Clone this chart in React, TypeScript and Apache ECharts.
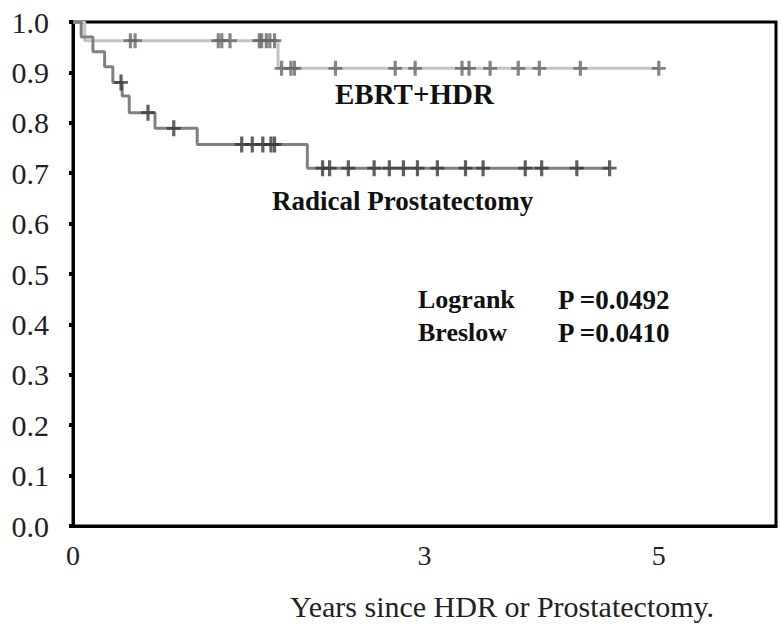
import React, { useEffect, useRef } from "react";
import * as echarts from "echarts";

// Kaplan-Meier step points (time in years, survival)
const ebrtStepTimes = [0, 0.1, 1.75, 5.0];
const ebrtStepSurv = [1.0, 0.963, 0.908, 0.908];
const rpStepTimes = [0, 0.07, 0.17, 0.27, 0.34, 0.42, 0.48, 0.7, 1.06, 2.0, 4.58];
const rpStepSurv = [1.0, 0.97, 0.941, 0.911, 0.88, 0.853, 0.82, 0.789, 0.757, 0.71, 0.71];

// censored observations (time in years)
const ebrtCensorTimes = [
  0.49, 0.53, 1.24, 1.27, 1.34, 1.59, 1.61, 1.65, 1.68, 1.72, 1.78, 1.86, 1.89,
  2.24, 2.75, 2.92, 3.32, 3.38, 3.56, 3.8, 3.98, 4.33, 5.0,
];
const rpCensorTimes = [
  0.41, 0.64, 0.86, 1.44, 1.53, 1.62, 1.69, 1.72, 2.13, 2.19, 2.35, 2.57, 2.7,
  2.82, 2.94, 3.11, 3.35, 3.5, 3.86, 4.0, 4.3, 4.58,
];

const xTickLabels = ["0", "3", "5"];
const yTicks = [0, 0.1, 0.2, 0.3, 0.4, 0.5, 0.6, 0.7, 0.8, 0.9, 1.0];

const groupLabels = ["EBRT+HDR", "Radical Prostatectomy"];
const statNames = ["Logrank", "Breslow"];
const statValues = ["P =0.0492", "P =0.0410"];
const xTitle = "Years since HDR or Prostatectomy.";

const SERIF = "Liberation Serif, Times New Roman, serif";
const CROSS =
  "path://M-1.6,-7L1.6,-7L1.6,-1.2L7,-1.2L7,1.2L1.6,1.2L1.6,7L-1.6,7L-1.6,1.2L-7,1.2L-7,-1.2L-1.6,-1.2Z";

function survAt(times: number[], surv: number[], t: number) {
  let s = surv[0];
  for (let i = 0; i < times.length; i++) {
    if (times[i] <= t) s = surv[i];
  }
  return s;
}

export default function App() {
  const ref = useRef<HTMLDivElement>(null);
  useEffect(() => {
    if (!ref.current) return;
    const chart = echarts.init(ref.current, null, { renderer: "svg" });
    const txt = (text: string, left: number, top: number, size: number, bold: boolean, color = "#111") => ({
      type: "text",
      left,
      top,
      style: {
        text,
        fontFamily: SERIF,
        fontSize: size,
        fontWeight: bold ? "bold" : "normal",
        fill: color,
      },
    });
    const option: any = {
      animation: false,
      backgroundColor: "#fff",
      grid: {
        left: 73,
        top: 22,
        right: 7,
        bottom: 104,
        show: true,
        borderColor: "#000",
        borderWidth: 3,
        backgroundColor: "transparent",
      },
      xAxis: {
        type: "value",
        min: 0,
        max: 6,
        interval: 1,
        axisLine: { show: true, onZero: false, lineStyle: { color: "#000", width: 3 } },
        axisTick: { show: false },
        splitLine: { show: false },
        axisLabel: {
          margin: 15,
          fontFamily: SERIF,
          fontSize: 28,
          color: "#222",
          formatter: (v: number) => (xTickLabels.includes(String(v)) ? String(v) : ""),
        },
      },
      yAxis: {
        type: "value",
        min: 0,
        max: 1,
        interval: 0.1,
        axisLine: { show: true, lineStyle: { color: "#000", width: 3 } },
        axisTick: { show: true, length: 4, lineStyle: { color: "#000", width: 4 } },
        splitLine: { show: false },
        axisLabel: {
          margin: 24,
          fontFamily: SERIF,
          fontSize: 30,
          color: "#222",
          formatter: (v: number) => (yTicks.some((t) => Math.abs(t - v) < 1e-6) ? v.toFixed(1) : ""),
        },
      },
      series: [
        {
          type: "line",
          step: "end",
          symbol: "none",
          data: ebrtStepTimes.map((t, i) => [t, ebrtStepSurv[i]]),
          lineStyle: { color: "#c4c4c4", width: 3 },
          z: 2,
        },
        {
          type: "line",
          step: "end",
          symbol: "none",
          data: rpStepTimes.map((t, i) => [t, rpStepSurv[i]]),
          lineStyle: { color: "#808080", width: 3 },
          z: 2,
        },
        {
          type: "scatter",
          symbol: CROSS,
          symbolSize: [14, 15],
          data: ebrtCensorTimes.map((t) => [t, survAt(ebrtStepTimes, ebrtStepSurv, t)]),
          itemStyle: { color: "#666666" },
          z: 3,
        },
        {
          type: "scatter",
          symbol: CROSS,
          symbolSize: [14, 16],
          data: rpCensorTimes.map((t) => [t, survAt(rpStepTimes, rpStepSurv, t)]),
          itemStyle: { color: "#383838" },
          z: 3,
        },
      ],
      graphic: [
        txt(groupLabels[0], 335, 79, 29, true),
        txt(groupLabels[1], 272, 187, 27, true),
        txt(statNames[0], 418, 286, 26, true),
        txt(statValues[0], 558, 286, 27, true),
        txt(statNames[1], 418, 319, 26, true),
        txt(statValues[1], 558, 319, 27, true),
        txt(xTitle, 290, 591, 30, false, "#222"),
      ],
    };
    chart.setOption(option);
    return () => chart.dispose();
  }, []);
  return <div ref={ref} style={{ width: 783, height: 630, position: "absolute", left: 0, top: 0 }} />;
}
